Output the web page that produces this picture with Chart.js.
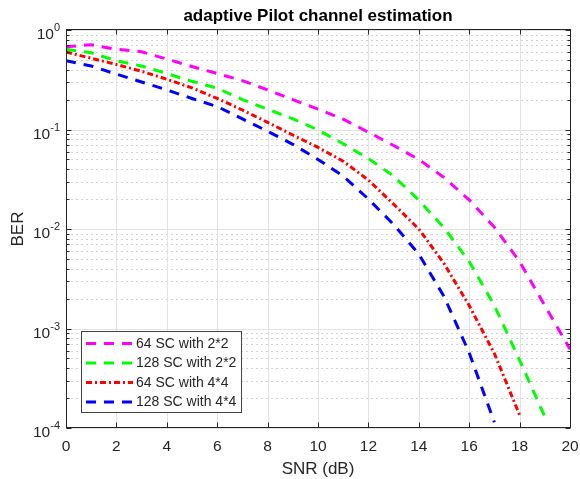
<!DOCTYPE html>
<html><head><meta charset="utf-8">
<script src="https://cdn.jsdelivr.net/npm/chart.js@4.4.1/dist/chart.umd.min.js"></script>
<style>html,body{margin:0;padding:0;background:#fff;}#wrap{width:580px;height:479px;}</style>
</head><body><div id="wrap"><canvas id="c" width="580" height="479"></canvas></div>
<script>
// ---- data ----
const snr = [0,1,2,3,4,5,6,7,8,9,10,11,12,13,14,15,16,17,18,19,20];
const ber64sc2x2  = [0.68,0.71,0.64,0.605,0.51,0.43,0.365,0.31,0.25,0.20,0.16,0.127,0.094,0.069,0.05,0.033,0.0196,0.0104,0.0047,0.0017,0.00062];
const ber128sc2x2 = [0.64,0.59,0.49,0.435,0.365,0.305,0.26,0.20,0.16,0.128,0.099,0.072,0.051,0.034,0.0195,0.0103,0.0047,0.0017,0.00048,0.00013];
const ber64sc4x4  = [0.60,0.52,0.45,0.385,0.32,0.262,0.205,0.157,0.118,0.088,0.066,0.048,0.031,0.0178,0.0100,0.0045,0.0017,0.00056,0.000135];
const ber128sc4x4 = [0.49,0.435,0.36,0.30,0.25,0.205,0.17,0.128,0.096,0.071,0.050,0.034,0.020,0.0111,0.0056,0.0021,0.00057,0.000114];
const seriesLabels = ['64 SC with 2*2','128 SC with 2*2','64 SC with 4*4','128 SC with 4*4'];
const xTickValues = [0,2,4,6,8,10,12,14,16,18,20];
const yDecadeExponents = [-4,-3,-2,-1,0];
const chartTitle = 'adaptive Pilot channel estimation';
const xAxisTitle = 'SNR (dB)';
const yAxisTitle = 'BER';

const FONT = "'Liberation Sans', Arial, sans-serif";
const seriesData = [ber64sc2x2, ber128sc2x2, ber64sc4x4, ber128sc4x4];
const seriesColors = ['#ff00ff','#00ff00','#ff0000','#0000ff'];
const seriesDash = [[10,8],[10,8],[6,3,2,3],[10,8]];

const datasets = seriesData.map((arr,i)=>({
  label: seriesLabels[i],
  data: arr.map((v,j)=>({x: snr[j], y: v})),
  borderColor: seriesColors[i],
  backgroundColor: seriesColors[i],
  borderWidth: 3,
  borderDash: seriesDash[i],
  borderCapStyle: 'butt',
  pointRadius: 0,
  tension: 0,
  fill: false
}));

function hline(ctx,x1,x2,y){ctx.beginPath();ctx.moveTo(x1,y);ctx.lineTo(x2,y);ctx.stroke();}
function vline(ctx,x,y1,y2){ctx.beginPath();ctx.moveTo(x,y1);ctx.lineTo(x,y2);ctx.stroke();}

const matlabAxes = {
  id: 'matlabAxes',
  beforeDatasetsDraw(chart){
    const {ctx, chartArea:a, scales:{x,y}} = chart;
    ctx.save();
    ctx.fillStyle='#fff'; ctx.fillRect(a.left,a.top,a.right-a.left,a.bottom-a.top);
    // minor dotted y grid
    ctx.strokeStyle='#d2d2d2'; ctx.lineWidth=1; ctx.setLineDash([2,3]);
    for (const e of yDecadeExponents.slice(0,-1)) for (let m=2;m<=9;m++){
      const py=Math.round(y.getPixelForValue(m*Math.pow(10,e)))+0.5; hline(ctx,a.left,a.right,py);
    }
    ctx.setLineDash([]);
    ctx.strokeStyle='#e2e2e2';
    for (const e of yDecadeExponents){ const py=Math.round(y.getPixelForValue(Math.pow(10,e)))+0.5; hline(ctx,a.left,a.right,py); }
    for (const t of xTickValues){ const px=Math.round(x.getPixelForValue(t))+0.5; vline(ctx,px,a.top,a.bottom); }
    ctx.restore();
  },
  afterDatasetsDraw(chart){
    const {ctx, chartArea:a, scales:{x,y}} = chart;
    ctx.save();
    const axisColor='#262626';
    ctx.strokeStyle=axisColor; ctx.lineWidth=1;
    const L=Math.round(a.left)+0.5, R=Math.round(a.right)+0.5, T=Math.round(a.top)-0.5, B=Math.round(a.bottom)-0.5;
    ctx.strokeRect(L,T,R-L,B-T);
    // x ticks
    for (const t of xTickValues){ const px=Math.round(x.getPixelForValue(t))+0.5; vline(ctx,px,B,B-5); vline(ctx,px,T,T+5); }
    // y ticks
    for (const e of yDecadeExponents){
      const py=Math.round(y.getPixelForValue(Math.pow(10,e)))+0.5; hline(ctx,L,L+5,py); hline(ctx,R,R-5,py);
      if (e<0) for (let m=2;m<=9;m++){ const q=Math.round(y.getPixelForValue(m*Math.pow(10,e)))+0.5; hline(ctx,L,L+3,q); hline(ctx,R,R-3,q); }
    }
    // x tick labels
    ctx.fillStyle=axisColor; ctx.font='15.5px '+FONT; ctx.textAlign='center'; ctx.textBaseline='alphabetic';
    for (const t of xTickValues){ ctx.fillText(String(t), x.getPixelForValue(t), 451); }
    // y tick labels 10^e
    for (const e of yDecadeExponents){
      const py=y.getPixelForValue(Math.pow(10,e));
      const ex=String(e);
      ctx.font='11px '+FONT; const ew=ctx.measureText(ex).width;
      ctx.font='15.5px '+FONT; const bw=ctx.measureText('10').width;
      const right=a.left-6;
      ctx.textAlign='left'; ctx.textBaseline='alphabetic';
      ctx.fillText('10', right-ew-bw, py+9);
      ctx.font='11px '+FONT; ctx.fillText(ex, right-ew, py+1);
    }
    // axis titles
    ctx.font='17px '+FONT; ctx.textAlign='center'; ctx.textBaseline='alphabetic';
    ctx.fillText(xAxisTitle,(a.left+a.right)/2,473.5);
    ctx.save(); ctx.translate(23,(a.top+a.bottom)/2); ctx.rotate(-Math.PI/2); ctx.fillText(yAxisTitle,0,0); ctx.restore();
    // title
    ctx.fillStyle='#000'; ctx.font='bold 17px '+FONT; ctx.fillText(chartTitle,(a.left+a.right)/2,21);
    // legend
    const bx=81.5, by=331.5, bwid=160, bh=81;
    ctx.fillStyle='#fff'; ctx.fillRect(bx,by,bwid,bh);
    ctx.strokeStyle='#444'; ctx.lineWidth=1; ctx.strokeRect(bx,by,bwid,bh);
    const rowY=[343.5,363,382.5,402];
    chart.data.datasets.forEach((ds,i)=>{
      const ry=rowY[i];
      ctx.strokeStyle=ds.borderColor; ctx.lineWidth=3; ctx.setLineDash(ds.borderDash); ctx.lineCap='butt';
      hline(ctx,86,133,ry); ctx.setLineDash([]);
      ctx.fillStyle=axisColor; ctx.font='14px '+FONT; ctx.textAlign='left'; ctx.textBaseline='middle';
      ctx.fillText(ds.label,136,ry+0.5);
    });
    ctx.restore();
  }
};

new Chart(document.getElementById('c').getContext('2d'), {
  type:'line',
  data:{datasets},
  options:{
    responsive:false, animation:false, devicePixelRatio:1,
    layout:{padding:{left:66,right:10,top:30,bottom:51}},
    plugins:{legend:{display:false},tooltip:{enabled:false},title:{display:false}},
    scales:{
      x:{type:'linear',min:0,max:20,display:false},
      y:{type:'logarithmic',min:1e-4,max:1,display:false}
    }
  },
  plugins:[matlabAxes]
});
</script></body></html>
